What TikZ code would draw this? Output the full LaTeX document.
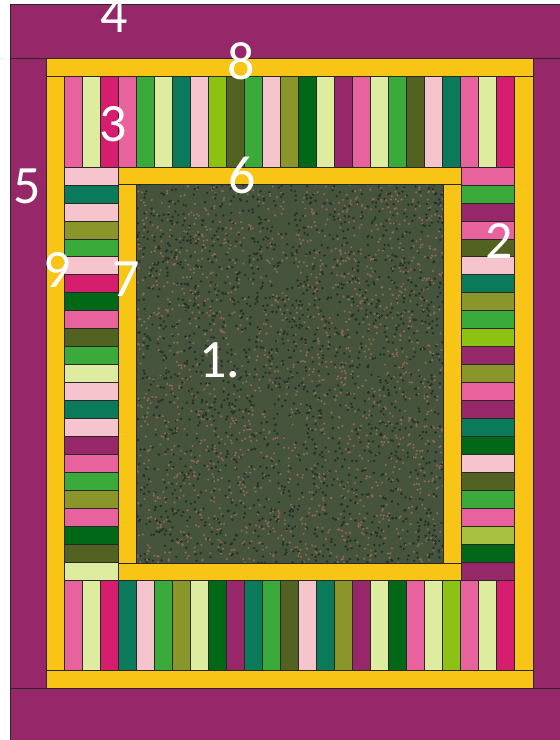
\documentclass[tikz,border=0pt]{standalone}
\usepackage{fontspec}
\setmainfont{Carlito}
\definecolor{qplum}{RGB}{150,40,105}
\definecolor{qgold}{RGB}{248,196,22}
\definecolor{qpink}{RGB}{232,98,158}
\definecolor{qpale}{RGB}{222,236,160}
\definecolor{qmag}{RGB}{214,30,110}
\definecolor{qgreen}{RGB}{58,170,58}
\definecolor{qteal}{RGB}{10,122,90}
\definecolor{qrose}{RGB}{246,196,204}
\definecolor{qlime}{RGB}{142,194,18}
\definecolor{qsoftlime}{RGB}{168,192,64}
\definecolor{qdkolive}{RGB}{82,98,32}
\definecolor{qolive}{RGB}{138,150,42}
\definecolor{qdkgreen}{RGB}{0,104,22}
\definecolor{qfloral}{RGB}{70,84,62}
\definecolor{qspeck}{RGB}{140,104,80}
\definecolor{qshade}{RGB}{38,52,40}
\definecolor{seam}{RGB}{40,40,40}

\begin{document}
\begin{tikzpicture}[x=1pt,y=-1pt,
    patch/.style={draw=seam,line width=0.6pt},
    lbl/.style={text=white,inner sep=0pt,font=\fontsize{54}{54}\selectfont}]
    \useasboundingbox (0,0) rectangle (560,740);
    % outer border
    \filldraw[patch,fill=qplum] (10,4) rectangle (560,740);
    \draw[patch] (10,58) -- (560,58);
    \draw[patch] (10,688) -- (560,688);
    \draw[patch] (46,58) -- (46,688);
    \draw[patch] (533,58) -- (533,688);
    % yellow frame
    \filldraw[patch,fill=qgold] (46,58) rectangle (533,76);
    \filldraw[patch,fill=qgold] (46,670) rectangle (533,688);
    \filldraw[patch,fill=qgold] (46,76) rectangle (64,670);
    \filldraw[patch,fill=qgold] (514,76) rectangle (533,670);
    % strips
    \foreach \c [count=\i from 0] in {qpink,qpale,qmag,qpink,qgreen,qpale,qteal,qrose,qlime,qdkolive,qgreen,qrose,qolive,qdkgreen,qpale,qplum,qpink,qpale,qgreen,qdkolive,qrose,qteal,qpink,qpale,qmag}
        \filldraw[patch,fill=\c] ({64+18*\i},76) rectangle ++(18,91);
    \foreach \c [count=\i from 0] in {qpink,qpale,qmag,qteal,qrose,qgreen,qolive,qpale,qdkgreen,qplum,qteal,qgreen,qdkolive,qrose,qteal,qolive,qplum,qpale,qdkgreen,qpink,qpale,qlime,qpink,qpale,qmag}
        \filldraw[patch,fill=\c] ({64+18*\i},580) rectangle ++(18,90);
    \foreach \c [count=\i from 0] in {qrose,qteal,qrose,qolive,qgreen,qrose,qmag,qdkgreen,qpink,qdkolive,qgreen,qpale,qrose,qteal,qrose,qplum,qpink,qgreen,qolive,qpink,qdkgreen,qdkolive,qpale}
        \filldraw[patch,fill=\c] (64,{167+17.957*\i}) rectangle ++(54,17.957);
    \foreach \c [count=\i from 0] in {qpink,qgreen,qplum,qpink,qdkolive,qrose,qteal,qolive,qgreen,qlime,qplum,qolive,qpink,qplum,qteal,qdkgreen,qrose,qdkolive,qgreen,qpink,qsoftlime,qdkgreen,qplum}
        \filldraw[patch,fill=\c] (461,{167+17.957*\i}) rectangle ++(53,17.957);
    % inner yellow frame
    \filldraw[patch,fill=qgold] (118,167) rectangle (461,184);
    \filldraw[patch,fill=qgold] (118,563) rectangle (461,580);
    \filldraw[patch,fill=qgold] (118,184) rectangle (136,563);
    \filldraw[patch,fill=qgold] (443,184) rectangle (461,563);
    % centre panel
    \fill[qfloral] (136,184) rectangle (443,563);
    \begin{scope}
        \clip (136,184) rectangle (443,563);
        \pgfmathsetseed{17}
        \foreach \k in {1,...,1800}{
            \pgfmathsetmacro{\px}{136+307*rnd}
            \pgfmathsetmacro{\py}{184+379*rnd}
            \fill[qspeck] (\px,\py) circle (1.2pt);
            \pgfmathsetmacro{\qx}{136+307*rnd}
            \pgfmathsetmacro{\qy}{184+379*rnd}
            \fill[qshade] (\qx,\qy) circle (1.4pt);
        }
    \end{scope}
    \draw[patch] (136,184) rectangle (443,563);
    % labels
    \node[lbl] (lbl4) at (114,15) {4};
    \node[lbl] (lbl8) at (241,61) {8};
    \node[lbl] (lbl3) at (113,124) {3};
    \node[lbl] (lbl5) at (27,186) {5};
    \node[lbl] (lbl6) at (242,175) {6};
    \node[lbl] (lbl2) at (499,241) {2};
    \node[lbl] (lbl9) at (57,270) {9};
    \node[lbl] (lbl7) at (126,279) {7};
    \node[lbl] (lbl1) at (220,360) {1.};
\end{tikzpicture}
\end{document}
